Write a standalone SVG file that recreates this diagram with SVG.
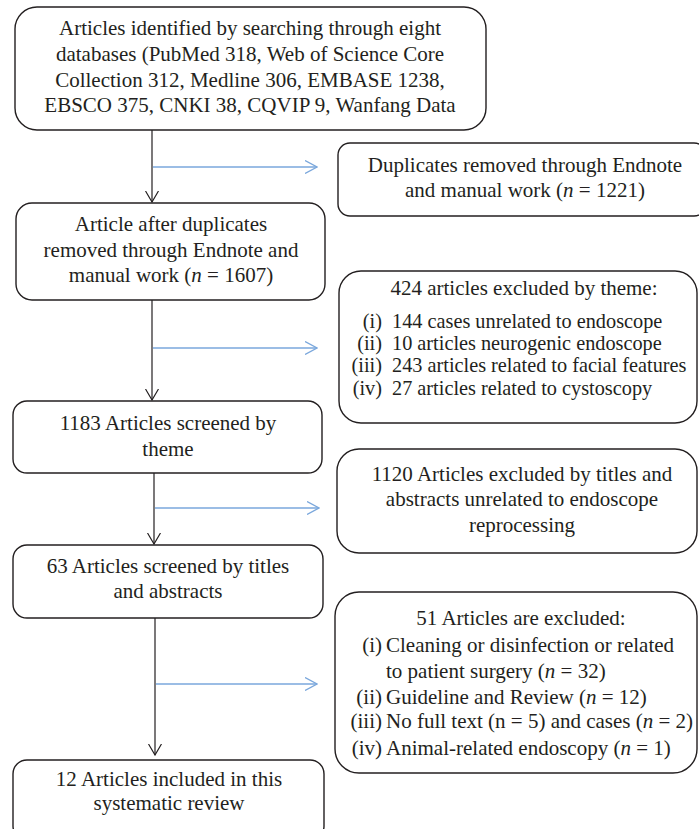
<svg xmlns="http://www.w3.org/2000/svg" width="699" height="829" viewBox="0 0 699 829">
<defs>
<style>
.box{fill:#fff;stroke:#231f20;stroke-width:1.4}
text{font-family:"Liberation Serif","Times New Roman",serif;font-size:21px;fill:#231f20}
.c{text-anchor:middle}
.e{text-anchor:end}
.s{font-size:20.3px}
.down{stroke:#231f20;stroke-width:1.2;fill:none}
.side{stroke:#7aa7dc;stroke-width:1.4;fill:none}
</style>
<marker id="ab" viewBox="0 0 12 14" refX="11.5" refY="7" markerWidth="12" markerHeight="14" markerUnits="userSpaceOnUse" orient="auto">
<path d="M0.5,0.5 L11.5,7 L0.5,13.5" fill="none" stroke="#231f20" stroke-width="1.2"/>
</marker>
<marker id="ablue" viewBox="0 0 13 14" refX="12.5" refY="7" markerWidth="13" markerHeight="14" markerUnits="userSpaceOnUse" orient="auto">
<path d="M0.5,0.5 L12.5,7 L0.5,13.5" fill="none" stroke="#7aa7dc" stroke-width="1.3"/>
</marker>
</defs>
<rect width="699" height="829" fill="#fff"/>

<g id="connectors">
<line class="down" x1="152" y1="130" x2="152" y2="202" marker-end="url(#ab)"/>
<line class="side" x1="153" y1="167" x2="317" y2="167" marker-end="url(#ablue)"/>
<line class="down" x1="152" y1="300" x2="152" y2="400" marker-end="url(#ab)"/>
<line class="side" x1="153" y1="348" x2="317" y2="348" marker-end="url(#ablue)"/>
<line class="down" x1="154" y1="473" x2="154" y2="544" marker-end="url(#ab)"/>
<line class="side" x1="155" y1="508" x2="319" y2="508" marker-end="url(#ablue)"/>
<line class="down" x1="155" y1="618" x2="155" y2="755" marker-end="url(#ab)"/>
<line class="side" x1="156" y1="684" x2="317" y2="684" marker-end="url(#ablue)"/>
</g>

<g id="n1">
<rect class="box" x="15" y="7" width="471" height="123" rx="22"/>
<text class="c" x="250" y="35">Articles identified by searching through eight</text>
<text class="c" x="250" y="61">databases (PubMed 318, Web of Science Core</text>
<text class="c" x="250" y="87">Collection 312, Medline 306, EMBASE 1238,</text>
<text class="c" x="250" y="112">EBSCO 375, CNKI 38, CQVIP 9, Wanfang Data</text>
</g>

<g id="n2">
<rect class="box" x="338" y="143" width="368" height="73" rx="12"/>
<text class="c" x="525" y="172">Duplicates removed through Endnote</text>
<text class="c" x="525" y="197">and manual work (<tspan font-style="italic">n</tspan> = 1221)</text>
</g>

<g id="n3">
<rect class="box" x="16" y="203" width="309" height="97" rx="16"/>
<text class="c" x="171" y="231">Article after duplicates</text>
<text class="c" x="171" y="257">removed through Endnote and</text>
<text class="c" x="171" y="282">manual work (<tspan font-style="italic">n</tspan> = 1607)</text>
</g>

<g id="n4">
<rect class="box" x="339" y="271" width="358" height="152" rx="22"/>
<text class="c" x="524" y="295">424 articles excluded by theme:</text>
<text class="e s" x="382" y="328">(i)</text>
<text class="s" x="392" y="328">144 cases unrelated to endoscope</text>
<text class="e s" x="382" y="350">(ii)</text>
<text class="s" x="392" y="350">10 articles neurogenic endoscope</text>
<text class="e s" x="382" y="372">(iii)</text>
<text class="s" x="392" y="372">243 articles related to facial features</text>
<text class="e s" x="382" y="395">(iv)</text>
<text class="s" x="392" y="395">27 articles related to cystoscopy</text>
</g>

<g id="n5">
<rect class="box" x="13" y="401" width="309" height="72" rx="14"/>
<text class="c" x="168" y="430">1183 Articles screened by</text>
<text class="c" x="168" y="456">theme</text>
</g>

<g id="n6">
<rect class="box" x="337" y="449" width="360" height="104" rx="22"/>
<text class="c" x="522" y="481">1120 Articles excluded by titles and</text>
<text class="c" x="522" y="506">abstracts unrelated to endoscope</text>
<text class="c" x="522" y="532">reprocessing</text>
</g>

<g id="n7">
<rect class="box" x="13" y="545" width="310" height="73" rx="14"/>
<text class="c" x="168" y="573">63 Articles screened by titles</text>
<text class="c" x="168" y="598">and abstracts</text>
</g>

<g id="n8">
<rect class="box" x="335" y="592" width="362" height="181" rx="24"/>
<text class="c" x="521" y="625">51 Articles are excluded:</text>
<text class="e" x="382" y="652">(i)</text>
<text x="386" y="652">Cleaning or disinfection or related</text>
<text x="386" y="678">to patient surgery (<tspan font-style="italic">n</tspan> = 32)</text>
<text class="e" x="382" y="704">(ii)</text>
<text x="386" y="704">Guideline and Review (<tspan font-style="italic">n</tspan> = 12)</text>
<text class="e" x="382" y="728">(iii)</text>
<text x="386" y="728">No full text (n = 5) and cases (<tspan font-style="italic">n</tspan> = 2)</text>
<text class="e" x="382" y="755">(iv)</text>
<text x="386" y="755">Animal-related endoscopy (<tspan font-style="italic">n</tspan> = 1)</text>
</g>

<g id="n9">
<rect class="box" x="13" y="760" width="311" height="80" rx="14"/>
<text class="c" x="169" y="786">12 Articles included in this</text>
<text class="c" x="169" y="810">systematic review</text>
</g>
</svg>
